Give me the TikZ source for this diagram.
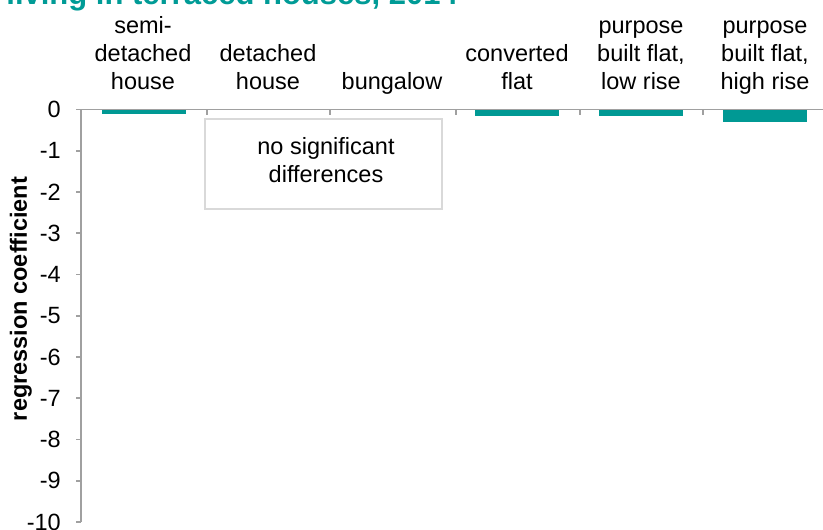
\documentclass[tikz,border=0pt]{standalone}
\usepackage{fontspec}
\setmainfont{Liberation Sans}
\begin{document}
\begin{tikzpicture}[x=1pt,y=-1pt,
  lab/.style={font=\fontsize{23.5}{28}\selectfont, inner sep=0pt, align=center},
  ticklab/.style={font=\fontsize{23.5}{28}\selectfont, inner sep=0pt, anchor=east},
  bar/.style={fill=barteal, draw=none},
  axisline/.style={draw=axgray, line width=1.6pt},
  nsbox/.style={draw=boxgray, line width=2.8pt, fill=white}]
\definecolor{barteal}{RGB}{0,153,148}
\definecolor{titleteal}{RGB}{0,155,150}
\definecolor{axgray}{RGB}{160,160,160}
\definecolor{boxgray}{RGB}{217,217,217}
\useasboundingbox (0,0) rectangle (823,530);
% title (cut off at top)
\node[inner sep=0pt, anchor=base east, text=titleteal, font=\fontsize{31}{36}\selectfont\bfseries] (title) at (458,5) {living in terraced houses, 2014};
% bars
\fill[bar] (102,109.5) rectangle (186,114);
\fill[bar] (475,109.5) rectangle (559,115.7);
\fill[bar] (599,109.5) rectangle (683,115.7);
\fill[bar] (723,109.5) rectangle (807,122);
% axes
\draw[axisline] (81,109.5) -- (81,522);
\draw[axisline] (76,109.5) -- (823,109.5);
\foreach \i in {1,...,10} {
  \draw[axisline] (76,{109.5+41.25*\i}) -- (81,{109.5+41.25*\i});
}
\foreach \xx in {207,330,456,580,703} {
  \draw[axisline] (\xx,109.5) -- (\xx,114.5);
}
% tick labels
\node[ticklab] (t0) at (61,109.5) {0};
\foreach \i in {1,...,10} {
  \node[ticklab] (t\i) at (61,{109.5+41.25*\i}) {-\i};
}
% category labels (base = last line)
\node[lab, anchor=base] (c1) at (143,89) {semi-\\detached\\house};
\node[lab, anchor=base] (c2) at (268,89) {detached\\house};
\node[lab, anchor=base] (c3) at (392,89) {bungalow};
\node[lab, anchor=base] (c4) at (517,89) {converted\\flat};
\node[lab, anchor=base] (c5) at (641,89) {purpose\\built flat,\\low rise};
\node[lab, anchor=base] (c6) at (765,89) {purpose\\built flat,\\high rise};
% box
\draw[nsbox] (205,119) rectangle (442,209);
\node[lab, anchor=base] (ns) at (326,182) {no significant\\differences};
% axis title
\node[inner sep=0pt, rotate=90, anchor=base, font=\fontsize{23.5}{28}\selectfont\bfseries] (ytitle) at (27,299) {regression coefficient};
\end{tikzpicture}
\end{document}
